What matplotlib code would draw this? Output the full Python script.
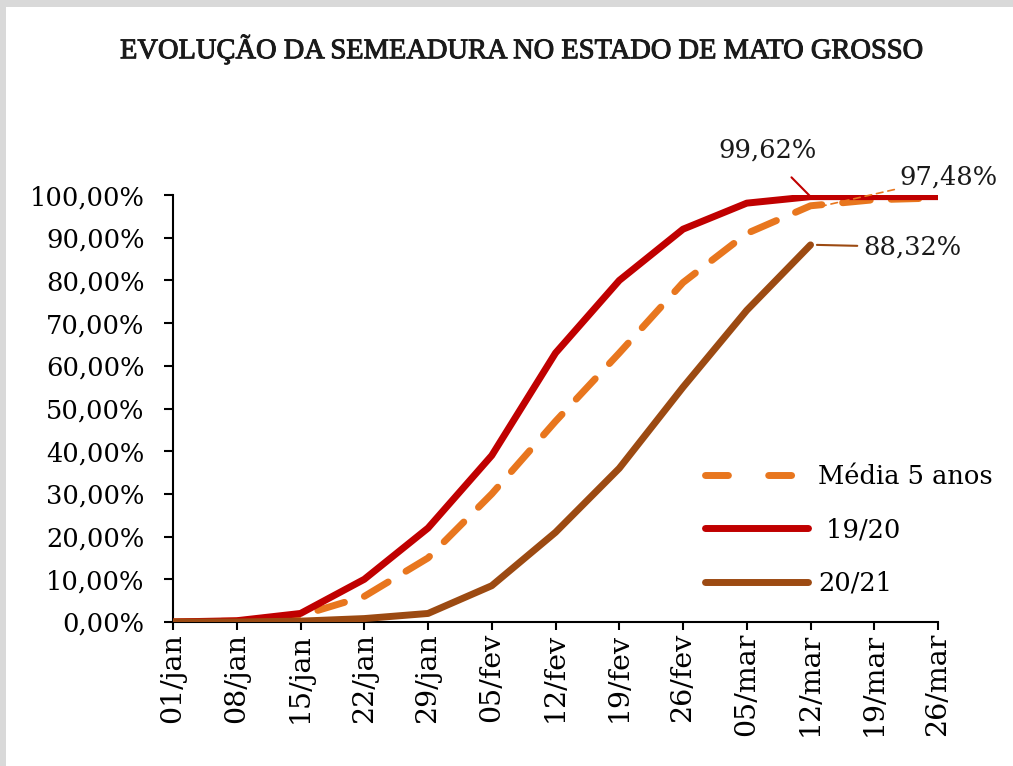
import numpy as np
import matplotlib
matplotlib.use("Agg")
import matplotlib.pyplot as plt
import matplotlib.patheffects as pe
from matplotlib.patches import Rectangle
from matplotlib.lines import Line2D
from matplotlib.ticker import FuncFormatter

# dados
datas = ["01/jan", "08/jan", "15/jan", "22/jan", "29/jan", "05/fev", "12/fev",
         "19/fev", "26/fev", "05/mar", "12/mar", "19/mar", "26/mar"]
media_5_anos = [0.0, 0.2, 1.5, 6.0, 15.0, 30.0, 47.0, 63.0, 79.5, 91.0, 97.48, 98.9, 99.3]
safra_19_20 = [0.0, 0.3, 2.0, 10.0, 22.0, 39.0, 63.0, 80.0, 92.0, 98.1, 99.62, 99.62, 99.62]
safra_20_21 = [0.0, 0.0, 0.2, 0.8, 2.0, 8.5, 21.0, 36.0, 55.0, 73.0, 88.32]

COR_MEDIA = "#E8761E"
COR_1920 = "#C00000"
COR_2021 = "#9C4A12"
FONTE = "DejaVu Serif"

plt.rcParams["font.family"] = [FONTE]

fig = plt.figure(figsize=(10.13, 7.66), dpi=100)
fig.patch.set_facecolor("#d9d9d9")
fig.patches.append(Rectangle((6 / 1013, 0), 1, 1 - 7 / 766, transform=fig.transFigure,
                             facecolor="white", edgecolor="none", zorder=-10))

ax = fig.add_axes([0.1708, 0.188, 0.7552, 0.5574])
ax.set_facecolor("none")

x = np.arange(len(datas))
ax.plot(x[:len(media_5_anos)], media_5_anos, color=COR_MEDIA, lw=5,
        dashes=(4, 3), dash_capstyle="round", zorder=2)
ax.plot(x[:len(safra_19_20)], safra_19_20, color=COR_1920, lw=5,
        solid_capstyle="round", zorder=3)
ax.plot(x[:len(safra_20_21)], safra_20_21, color=COR_2021, lw=5,
        solid_capstyle="round", zorder=3)

ax.set_xlim(0, len(datas) - 1)
ax.set_ylim(0, 100)
ax.set_xticks(x)
ax.set_xticklabels(datas, rotation=90, fontsize=20.5)
ax.set_yticks(np.arange(0, 101, 10))
ax.yaxis.set_major_formatter(FuncFormatter(lambda v, p: f"{v:.2f}%".replace(".", ",")))
ax.tick_params(axis="y", labelsize=18.5, length=6.5, width=1.5, direction="out", pad=14)
ax.tick_params(axis="x", length=6, width=1.5, direction="out", pad=2)
for s in ["top", "right"]:
    ax.spines[s].set_visible(False)
for s in ["left", "bottom"]:
    ax.spines[s].set_linewidth(1.5)

# rótulos de valor
ax.annotate("99,62%", xy=(10, safra_19_20[10]), xytext=(9.32, 110.5),
            fontsize=18.5, ha="center", va="center", color="#1a1a1a",
            arrowprops=dict(arrowstyle="-", color=COR_1920, lw=1.5,
                            shrinkA=12, shrinkB=0, relpos=(0.6, 0)),
            annotation_clip=False)
ax.annotate("97,48%", xy=(10.2, media_5_anos[10]), xytext=(11.4, 104.2),
            fontsize=18.5, ha="left", va="center", color="#1a1a1a",
            arrowprops=dict(arrowstyle="-", color=COR_MEDIA, lw=1.2, ls=(0, (4, 3)),
                            shrinkA=2, shrinkB=0),
            annotation_clip=False)
ax.annotate("88,32%", xy=(10.1, safra_20_21[10]), xytext=(10.82, 87.8),
            fontsize=18.5, ha="left", va="center", color="#1a1a1a",
            arrowprops=dict(arrowstyle="-", color=COR_2021, lw=1.5,
                            shrinkA=2, shrinkB=0),
            annotation_clip=False)

# legenda
handles = [
    Line2D([], [], color=COR_MEDIA, lw=5, dashes=(3.3, 5.8), dash_capstyle="round"),
    Line2D([], [], color=COR_1920, lw=5, solid_capstyle="round"),
    Line2D([], [], color=COR_2021, lw=5, solid_capstyle="round"),
]
labels = ["Média 5 anos", " 19/20", "20/21"]
fig.legend(handles, labels, loc="upper left",
           bbox_to_anchor=(0.696, 0.394), frameon=False, borderpad=0,
           fontsize=18.5, handlelength=4.0, handletextpad=0.4,
           labelspacing=1.1, borderaxespad=0)

fig.text(0.515, 0.935, "EVOLUÇÃO DA SEMEADURA NO ESTADO DE MATO GROSSO",
         ha="center", va="center", fontsize=20.5, family="Liberation Serif",
         color="#1a1a1a",
         path_effects=[pe.withStroke(linewidth=0.7, foreground="#1a1a1a")])

fig.savefig("out.png", dpi=100, facecolor=fig.get_facecolor())
